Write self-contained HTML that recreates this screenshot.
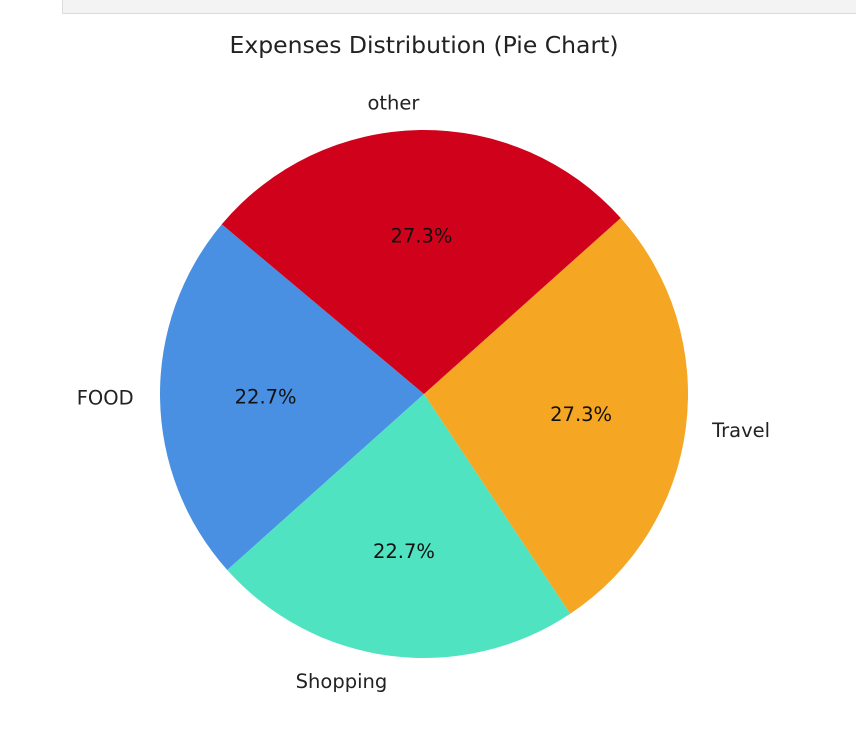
<!DOCTYPE html>
<html><head><meta charset="utf-8"><style>
body{margin:0;background:#fff;width:856px;height:733px;overflow:hidden;font-family:"Liberation Sans","DejaVu Sans",sans-serif}
</style></head><body>
<div style="position:absolute;left:62px;top:-1px;width:800px;height:15px;background:#f3f3f3;border:1px solid #dcdcdc;box-sizing:border-box"></div>
<svg id="chart" width="856" height="733" style="position:absolute;left:0;top:0" xmlns="http://www.w3.org/2000/svg">
<text x="424" y="53" text-anchor="middle" font-family="DejaVu Sans, sans-serif" font-size="23.5" fill="#222">Expenses Distribution (Pie Chart)</text>
</svg>
<script>
const categories = ["FOOD","Shopping","Travel","other"];
const values = [5,5,6,6];
const colors = ["#4a90e2","#50e3c2","#f5a623","#d0021b"];
const startAngle = 140;
const cx=424, cy=394, r=264;
const svg=document.getElementById('chart');
const NS="http://www.w3.org/2000/svg";
const total=values.reduce((a,b)=>a+b,0);
let a=startAngle;
function pt(deg,rad){const t=deg*Math.PI/180;return [cx+rad*Math.cos(t), cy-rad*Math.sin(t)];}
values.forEach((v,i)=>{
  const span=v/total*360, a2=a+span;
  const [x1,y1]=pt(a,r),[x2,y2]=pt(a2,r);
  const p=document.createElementNS(NS,'path');
  p.setAttribute('d',`M${cx},${cy} L${x1},${y1} A${r},${r} 0 ${span>180?1:0} 0 ${x2},${y2} Z`);
  p.setAttribute('fill',colors[i]);
  
  
  svg.appendChild(p);
  const mid=(a+a2)/2;
  const [lx,ly]=pt(mid,r*1.1);
  const lt=document.createElementNS(NS,'text');
  lt.textContent=categories[i];
  lt.setAttribute('x',lx);lt.setAttribute('y',ly+6);
  lt.setAttribute('text-anchor',Math.cos(mid*Math.PI/180)>0.01?'start':(Math.cos(mid*Math.PI/180)<-0.01?'end':'middle'));
  lt.setAttribute('font-family','DejaVu Sans, sans-serif');lt.setAttribute('font-size','19.5');lt.setAttribute('fill','#222');
  
  
  svg.appendChild(lt);
  const [px,py]=pt(mid,r*0.6);
  const pctT=document.createElementNS(NS,'text');
  pctT.textContent=(v/total*100).toFixed(1)+'%';
  pctT.setAttribute('x',px);pctT.setAttribute('y',py+7);
  pctT.setAttribute('text-anchor','middle');
  pctT.setAttribute('font-family','DejaVu Sans, sans-serif');pctT.setAttribute('font-size','19.5');pctT.setAttribute('fill','#111');
  
  
  svg.appendChild(pctT);
  a=a2;
});
</script>
</body></html>
